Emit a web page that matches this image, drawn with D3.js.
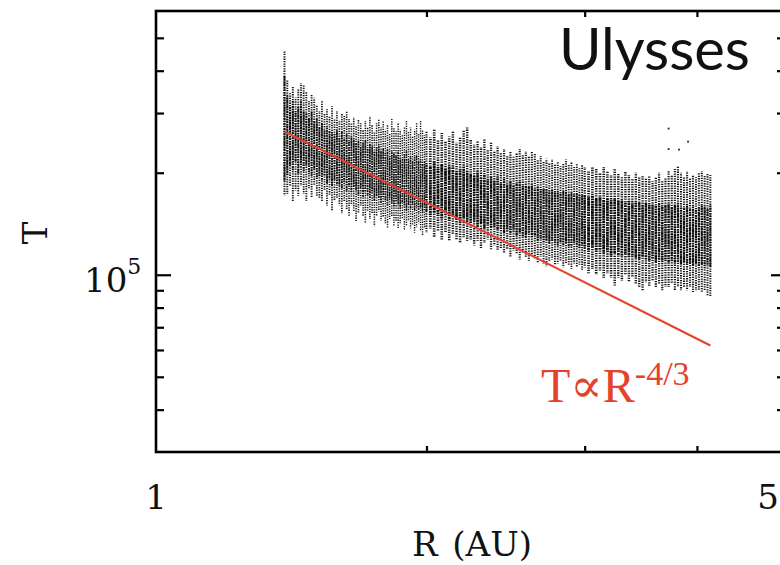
<!DOCTYPE html>
<html>
<head>
<meta charset="utf-8">
<script src="https://cdn.jsdelivr.net/npm/d3@7/dist/d3.min.js"></script>
<style>
  body { margin: 0; background: #fff; }
  svg { display: block; }
</style>
</head>
<body>
<svg id="chart" width="780" height="565"></svg>
<script>
// Heliocentric distance of each sampled column of readings (AU)
const radius = [
  1.39,1.40,1.41,1.42,1.43,1.44,1.45,1.46,1.47,1.48,
  1.49,1.50,1.51,1.52,1.53,1.54,1.55,1.56,1.57,1.58,
  1.59,1.60,1.61,1.62,1.63,1.64,1.65,1.66,1.67,1.68,
  1.69,1.70,1.71,1.72,1.73,1.74,1.75,1.76,1.77,1.78,
  1.79,1.80,1.81,1.82,1.83,1.84,1.85,1.86,1.87,1.88,
  1.89,1.90,1.91,1.92,1.93,1.94,1.95,1.96,1.97,1.98,
  1.99,
  2.00,2.02,2.04,2.06,2.08,2.10,2.12,2.14,2.16,2.18,
  2.20,2.22,2.24,2.26,2.28,2.30,2.32,2.34,2.36,2.38,
  2.40,2.42,2.44,2.46,2.48,2.50,2.52,2.54,2.56,2.58,
  2.60,2.62,2.64,2.66,2.68,2.70,2.72,2.74,2.76,2.78,
  2.80,2.82,2.84,2.86,2.88,2.90,2.92,2.94,2.96,2.98,
  3.00,3.03,3.06,3.09,3.12,3.15,3.18,3.21,3.24,3.27,
  3.30,3.33,3.36,3.39,3.42,3.45,3.48,3.51,3.54,3.57,
  3.60,3.63,3.66,3.69,3.72,3.75,3.78,3.81,3.84,3.87,
  3.90,3.93,3.96,3.99,4.02,4.05,4.08,4.11,4.14
];

// Temperature spread of each column, in thousands of K:
// highest reading, top of the dense core, bottom of the dense core, lowest reading
const tempMax = [
  456,377,343,360,334,353,367,362,348,325,
  341,333,316,304,325,300,308,294,314,288,
  304,284,300,294,304,288,280,292,274,288,
  280,268,284,272,294,276,265,280,288,272,
  284,268,276,262,288,272,265,280,268,258,
  274,284,265,272,256,268,280,262,284,268,
  258,
  265,254,268,251,262,248,256,265,245,254,
  268,272,251,242,248,238,251,235,245,232,
  240,229,235,224,232,223,229,235,226,232,
  223,232,227,219,224,216,220,213,219,211,
  216,209,213,219,211,216,208,213,206,211,
  208,202,209,205,200,208,202,197,205,200,
  194,202,197,192,200,194,197,192,196,189,
  194,200,189,194,202,197,205,209,200,194,
  202,192,197,194,200,202,196,200,197
];
const coreHigh = [
  385,336,314,325,304,314,325,304,300,288,
  304,284,288,274,280,267,274,265,267,262,
  267,256,265,251,262,248,256,251,245,248,
  240,245,248,237,243,240,232,238,242,232,
  235,229,235,224,232,229,224,232,222,219,
  229,232,219,224,216,222,226,216,219,213,
  216,
  213,209,216,208,212,205,209,208,202,205,
  209,202,199,196,202,195,197,192,196,189,
  195,187,192,185,189,183,187,189,183,184,
  182,185,180,182,179,180,179,177,179,175,
  177,174,176,177,173,175,173,174,172,173,
  172,170,172,168,170,167,168,166,168,165,
  166,164,165,163,164,163,162,163,161,162,
  160,162,160,160,162,159,160,162,159,157,
  160,157,159,157,159,160,159,157,160
];
const coreLow = [
  189,196,209,202,216,199,209,202,209,199,
  196,205,192,196,189,196,186,192,183,189,
  185,183,180,186,177,183,175,181,177,171,
  180,170,175,171,168,175,165,171,168,163,
  170,165,160,168,163,159,165,161,157,163,
  159,154,161,157,160,154,159,152,157,152,
  159,
  154,150,152,149,146,152,144,149,146,142,
  146,144,140,144,138,142,137,140,137,138,
  135,137,133,135,132,135,130,133,130,129,
  132,129,130,126,128,125,126,124,126,124,
  122,125,122,124,121,122,124,121,120,122,
  120,118,121,117,118,116,117,114,116,114,
  113,115,112,114,112,111,113,111,110,112,
  109,111,109,110,108,110,108,109,107,109,
  107,108,106,108,106,107,106,107,105
];
const tempMin = [
  171,173,183,165,177,171,183,173,165,180,
  169,183,171,168,165,177,160,171,154,165,
  168,160,152,165,156,149,160,154,144,152,
  160,149,142,154,146,152,139,149,154,144,
  148,142,137,146,149,139,144,137,142,146,
  135,139,144,137,140,133,138,142,135,131,
  137,
  133,137,129,135,127,133,126,131,127,124,
  129,126,127,122,126,120,124,127,119,122,
  118,120,116,119,113,118,115,111,116,113,
  110,115,111,108,113,108,106,110,111,107,
  108,110,105,108,107,104,108,105,107,103,
  105,101,104,100,103,98,101,98,93,98,
  96,100,95,98,94,92,90,95,92,96,
  92,94,90,92,92,94,90,92,90,92,
  90,92,89,90,90,89,90,87,86
];

// Isolated hot readings above the main cloud (AU, thousands of K)
const strayR = [3.72, 3.72, 3.82, 3.91];
const strayT = [270, 235, 234, 247];

// Power-law guide T ∝ R^(-4/3), anchored at the first radius
const fitExponent = -4 / 3;
const fitRange = [1.39, 4.14];
const fitStartT = 265;

// Axis ticks
const xLabelValues = [1, 5];
const xMinorTicks = [2, 3, 4];
const yMajorTicks = [1e5];
const yMinorTicks = [4e4, 5e4, 6e4, 7e4, 8e4, 9e4, 2e5, 3e5, 4e5, 5e5];

const svg = d3.select("#chart");
const plotLeft = 156, plotRight = 784, plotTop = 11, plotBottom = 452;

const x = d3.scaleLog().domain([1, 5]).range([plotLeft, plotRight]);
const y = d3.scaleLog().domain([3e4, 6e5]).range([plotBottom, plotTop]);
const kK = v => v * 1000;

// Measurement cloud: each column is a stippled vertical run of readings.
// Stipple width follows the gap to the neighbouring columns so density stays even.
const cloud = svg.append("g").attr("class", "cloud");
const cols = radius.map((r, i) => {
  const next = radius[Math.min(i + 1, radius.length - 1)];
  const prev = radius[Math.max(i - 1, 0)];
  const gap = (x(next) - x(prev)) / (i === 0 || i === radius.length - 1 ? 1 : 2);
  return { i, r, gap, hi: tempMax[i], ch: coreHigh[i], cl: coreLow[i], lo: tempMin[i] };
});

cloud.selectAll("line.outer").data(cols).join("line")
  .attr("class", "outer")
  .attr("x1", d => x(d.r)).attr("x2", d => x(d.r))
  .attr("y1", d => y(kK(d.hi))).attr("y2", d => y(kK(d.lo)))
  .attr("stroke", "#161616")
  .attr("stroke-width", d => Math.min(d.gap, 4) * 0.7)
  .attr("stroke-dasharray", "1.3 1.1")
  .attr("stroke-dashoffset", d => (d.i * 1.37) % 2.4);

cloud.selectAll("line.core").data(cols).join("line")
  .attr("class", "core")
  .attr("x1", d => x(d.r)).attr("x2", d => x(d.r))
  .attr("y1", d => y(kK(d.ch))).attr("y2", d => y(kK(d.cl)))
  .attr("stroke", "#0a0a0a")
  .attr("stroke-width", d => Math.min(d.gap, 4) * 0.75)
  .attr("stroke-dasharray", "1.6 1.0")
  .attr("stroke-dashoffset", d => (d.i * 0.91) % 2.6);

cloud.selectAll("rect.stray").data(strayR.map((r, i) => ({ r, t: strayT[i] }))).join("rect")
  .attr("class", "stray")
  .attr("x", d => x(d.r) - 0.9).attr("y", d => y(kK(d.t)) - 0.9)
  .attr("width", 1.8).attr("height", 1.8).attr("fill", "#222");

// Power-law guide line
const fitLine = fitRange.map(r => [r, kK(fitStartT) * Math.pow(r / fitRange[0], fitExponent)]);
svg.append("path")
  .datum(fitLine)
  .attr("d", d3.line().x(d => x(d[0])).y(d => y(d[1])))
  .attr("fill", "none").attr("stroke", "#e4422a").attr("stroke-width", 2);

// Frame and inward ticks on all four sides
const axisColor = "#000";
svg.append("rect")
  .attr("x", plotLeft).attr("y", plotTop)
  .attr("width", plotRight - plotLeft).attr("height", plotBottom - plotTop)
  .attr("fill", "none").attr("stroke", axisColor).attr("stroke-width", 2.6);

function styleAxis(g) {
  g.select(".domain").remove();
  g.selectAll("line").attr("stroke", axisColor).attr("stroke-width", 2.2);
}
svg.append("g").attr("transform", `translate(0,${plotBottom})`)
  .call(d3.axisBottom(x).tickValues(xMinorTicks).tickSize(-6).tickFormat("")).call(styleAxis);
svg.append("g").attr("transform", `translate(0,${plotTop})`)
  .call(d3.axisTop(x).tickValues(xMinorTicks).tickSize(-6).tickFormat("")).call(styleAxis);
svg.append("g").attr("transform", `translate(${plotLeft},0)`)
  .call(d3.axisLeft(y).tickValues(yMinorTicks).tickSize(-8).tickFormat("")).call(styleAxis);
svg.append("g").attr("transform", `translate(${plotLeft},0)`)
  .call(d3.axisLeft(y).tickValues(yMajorTicks).tickSize(-15).tickFormat("")).call(styleAxis);
svg.append("g").attr("transform", `translate(${plotRight},0)`)
  .call(d3.axisRight(y).tickValues(yMinorTicks).tickSize(-7).tickFormat("")).call(styleAxis);
svg.append("g").attr("transform", `translate(${plotRight},0)`)
  .call(d3.axisRight(y).tickValues(yMajorTicks).tickSize(-13).tickFormat("")).call(styleAxis);

// Tick labels (the rightmost one is pulled in so it stays on the page)
const serif = "'DejaVu Serif', 'Liberation Serif', serif";
svg.selectAll("text.xlab").data(xLabelValues).join("text")
  .attr("class", "xlab")
  .attr("x", d => Math.min(x(d), 768))
  .attr("y", plotBottom + 57)
  .attr("text-anchor", "middle")
  .attr("font-family", serif).attr("font-size", 34).attr("fill", "#111")
  .text(d => d);

const yl = svg.selectAll("text.ylab").data(yMajorTicks).join("text")
  .attr("class", "ylab")
  .attr("x", 84).attr("y", d => y(d) + 17)
  .attr("font-family", serif).attr("fill", "#111");
yl.append("tspan").attr("font-size", 34).text("10");
yl.append("tspan").attr("font-size", 22).attr("dy", -18).text("5");

// Axis titles
svg.append("text")
  .attr("x", (plotLeft + plotRight) / 2 + 2).attr("y", 556)
  .attr("text-anchor", "middle")
  .attr("font-family", serif).attr("font-size", 34).attr("fill", "#111")
  .attr("word-spacing", 4)
  .text("R (AU)");

svg.append("text")
  .attr("transform", "translate(47,233) rotate(-90)")
  .attr("text-anchor", "middle")
  .attr("font-family", serif).attr("font-size", 34).attr("fill", "#111")
  .text("T");

// Spacecraft name
svg.append("text")
  .attr("x", 750).attr("y", 70)
  .attr("text-anchor", "end")
  .attr("font-family", "Lato, 'Open Sans', sans-serif").attr("font-size", 58).attr("fill", "#111")
  .text("Ulysses");

// Power-law annotation
const ann = svg.append("text")
  .attr("x", 541).attr("y", 402)
  .attr("font-family", "'Liberation Serif', 'DejaVu Serif', serif").attr("fill", "#e4422a");
ann.append("tspan").attr("font-size", 48).text("T\u221DR");
ann.append("tspan").attr("font-size", 34).attr("dy", -17).text("-4/3");
</script>
</body>
</html>
